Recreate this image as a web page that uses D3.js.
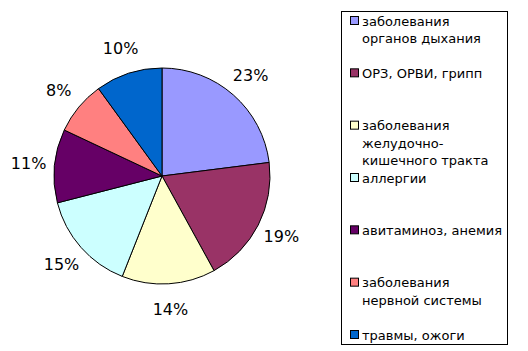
<!DOCTYPE html>
<html>
<head>
<meta charset="utf-8">
<script src="https://cdn.jsdelivr.net/npm/d3@7"></script>
<style>
  body { margin: 0; background: #fff; }
</style>
</head>
<body>
<svg id="chart"></svg>
<script>
// Chart size
const width = 528;
const height = 351;

// Data
const categories = [
    ["заболевания", "органов дыхания"],
    ["ОРЗ, ОРВИ, грипп"],
    ["заболевания", "желудочно-", "кишечного тракта"],
    ["аллергии"],
    ["авитаминоз, анемия"],
    ["заболевания", "нервной системы"],
    ["травмы, ожоги"]
];
const values = [23, 19, 14, 15, 11, 8, 10];
const colors = ["#9999FF", "#993366", "#FFFFCC", "#CCFFFF", "#660066", "#FF8080", "#0066CC"];

const svg = d3.select("#chart")
    .attr("width", width)
    .attr("height", height);

// Pie
const cx = 162, cy = 176, radius = 108;
const pie = d3.pie().sort(null).value(d => d);
const arcs = pie(values);
const arc = d3.arc().innerRadius(0).outerRadius(radius);
const labelArc = d3.arc().innerRadius(134).outerRadius(134);

const g = svg.append("g").attr("transform", `translate(${cx},${cy})`);

g.selectAll("path")
    .data(arcs)
    .enter().append("path")
    .attr("d", arc)
    .attr("fill", (d, i) => colors[i])
    .attr("stroke", "#000")
    .attr("stroke-width", 1);

g.selectAll("text")
    .data(arcs)
    .enter().append("text")
    .attr("transform", d => `translate(${labelArc.centroid(d)})`)
    .attr("text-anchor", "middle")
    .attr("dominant-baseline", "central")
    .style("font-family", "DejaVu Sans, sans-serif")
    .style("font-size", "16px")
    .attr("fill", "#000")
    .text(d => d.data + "%");

// Legend box
svg.append("rect")
    .attr("x", 341.5)
    .attr("y", 11.5)
    .attr("width", 166)
    .attr("height", 333)
    .attr("fill", "#fff")
    .attr("stroke", "#000")
    .attr("stroke-width", 1);

const legendY = d3.scaleLinear().domain([0, 6]).range([21, 335]);

const items = svg.selectAll(".legend-item")
    .data(categories)
    .enter().append("g")
    .attr("class", "legend-item")
    .attr("transform", (d, i) => `translate(0,${legendY(i)})`);

items.append("rect")
    .attr("x", 350.5)
    .attr("y", -4.5)
    .attr("width", 8)
    .attr("height", 8)
    .attr("fill", (d, i) => colors[i])
    .attr("stroke", "#000")
    .attr("stroke-width", 1);

items.each(function (lines) {
    d3.select(this).selectAll("text")
        .data(lines)
        .enter().append("text")
        .attr("x", 362)
        .attr("y", (d, j) => j * 17.5)
        .attr("dominant-baseline", "central")
        .style("font-family", "DejaVu Sans, sans-serif")
        .style("font-size", "13px")
        .attr("fill", "#000")
        .text(d => d);
});
</script>
</body>
</html>
